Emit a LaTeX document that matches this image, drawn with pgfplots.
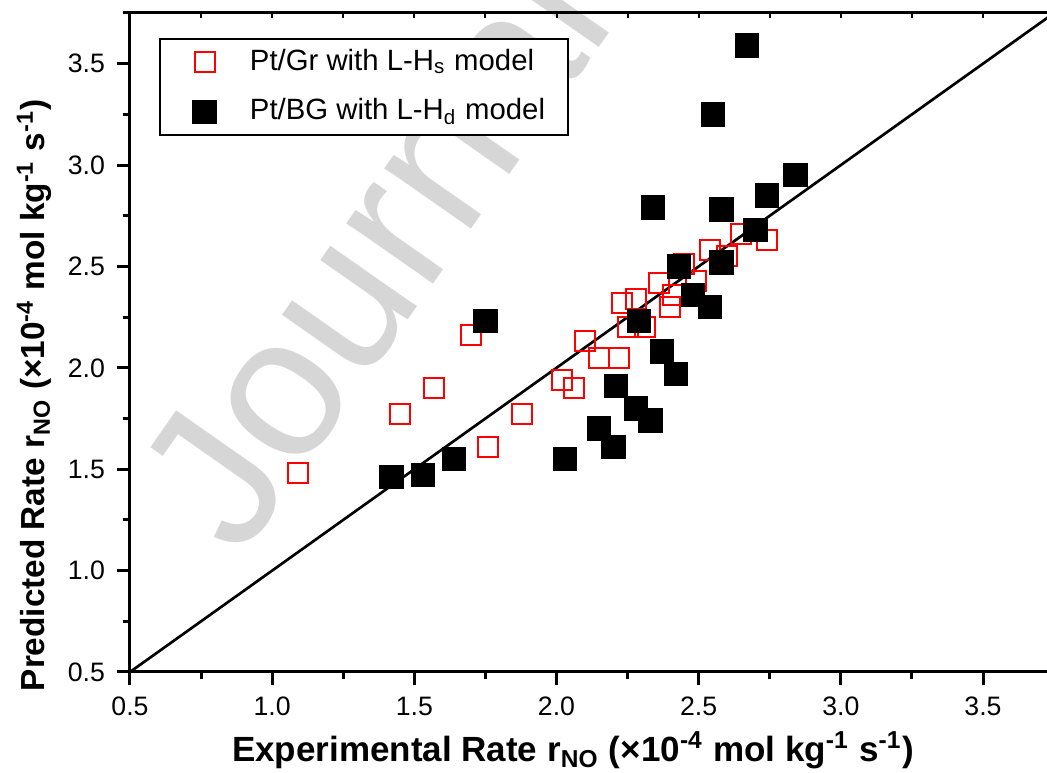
\documentclass[border=0pt]{standalone}
\usepackage{fontspec}
\setmainfont{Liberation Sans}
\usepackage{pgfplots}
\pgfplotsset{compat=1.18}

\begin{document}
\begin{tikzpicture}
% watermark
\node[rotate=55, anchor=base west, text=black!16, inner sep=0,
      font=\fontsize{60}{60}\selectfont] at (33pt,33.6pt) {Journal Pre-proof};

\begin{axis}[
  scale only axis, width=275.1pt, height=197.7pt,
  at={(0,0)}, anchor=south west,
  xmin=0.5, xmax=3.725, ymin=0.5, ymax=3.75,
  axis x line*=bottom, axis y line*=left,
  axis line style={line width=0.9pt},
  every tick/.style={line width=0.9pt, black},
  tick align=outside,
  major tick length=4pt, minor tick length=2.2pt,
  xtick={0.5,1.0,...,3.5}, ytick={0.5,1.0,...,3.5},
  minor xtick={0.75,1.25,...,3.25}, minor ytick={0.75,1.25,...,3.75},
  tick label style={font=\fontsize{8}{9}\selectfont},
  /pgf/number format/.cd, fixed, fixed zerofill, precision=1, assume math mode=true,
  /pgfplots/.cd,
  xlabel={\textbf{Experimental Rate r\textsubscript{NO} (×10\textsuperscript{-4} mol kg\textsuperscript{-1} s\textsuperscript{-1})}},
  ylabel={\textbf{Predicted Rate r\textsubscript{NO} (×10\textsuperscript{-4} mol kg\textsuperscript{-1} s\textsuperscript{-1})}},
  xlabel style={font=\fontsize{10.5}{12}\selectfont, at={(axis description cs:0.483,-0.1366)}, anchor=base},
  ylabel style={font=\fontsize{10}{12}\selectfont, at={(axis description cs:-0.0927,0.42)}, anchor=base},
  legend style={at={(0.0316,0.962)}, anchor=north west, draw=black, line width=0.6pt,
    font=\fontsize{8.8}{10}\selectfont, row sep=3pt, inner xsep=5pt, inner ysep=1pt},
  legend cell align=left,
  legend image code/.code={\path (0pt,0pt) (19.4pt,0pt); \draw[#1] plot coordinates {(8.1pt,0pt)};},
]
\addplot[black, line width=0.8pt, forget plot] coordinates {(0.5,0.5) (3.75,3.75)};

\addplot[only marks, mark=square, mark size=3pt, red, mark options={line width=0.6pt}]
  coordinates {
  (1.09,1.48)(1.45,1.77)(1.57,1.90)(1.70,2.16)(1.76,1.61)(1.88,1.77)
  (2.02,1.94)(2.06,1.90)(2.10,2.13)(2.15,2.05)(2.22,2.05)(2.23,2.32)
  (2.28,2.34)(2.25,2.20)(2.31,2.20)(2.36,2.42)(2.40,2.30)(2.41,2.36)
  (2.45,2.51)(2.49,2.43)(2.54,2.58)(2.60,2.55)(2.65,2.66)(2.74,2.63)
  };
\addlegendentry{Pt/Gr with L-H\textsubscript{s} model}

\addplot[only marks, mark=square*, mark size=3.5pt, black, mark options={line width=0.3pt}]
  coordinates {
  (1.42,1.46)(1.53,1.47)(1.64,1.55)(1.75,2.23)(2.03,1.55)(2.15,1.70)
  (2.20,1.61)(2.21,1.91)(2.28,1.80)(2.33,1.74)(2.29,2.23)(2.37,2.08)
  (2.42,1.97)(2.43,2.50)(2.48,2.36)(2.54,2.30)(2.58,2.52)(2.70,2.68)
  (2.67,3.59)(2.55,3.25)(2.34,2.79)(2.58,2.78)(2.74,2.85)(2.84,2.95)
  };
\addlegendentry{Pt/BG with L-H\textsubscript{d} model}
\end{axis}

% top axis line with small inward ticks
\begin{axis}[
  scale only axis, width=275.1pt, height=197.7pt,
  at={(0,0)}, anchor=south west,
  xmin=0.5, xmax=3.725, ymin=0.5, ymax=3.75,
  axis x line*=top, axis y line=none,
  axis line style={line width=0.9pt},
  every tick/.style={line width=0.6pt, black},
  tick align=inside,
  major tick length=1.5pt, minor tick length=1.5pt,
  xtick={0.5,1.0,...,3.5}, minor xtick={0.75,1.25,...,3.25},
  xticklabels={},
]
\end{axis}

\pgfresetboundingbox
\path (-39pt,-30.3pt) rectangle (275.1pt,201.6pt);
\end{tikzpicture}
\end{document}
